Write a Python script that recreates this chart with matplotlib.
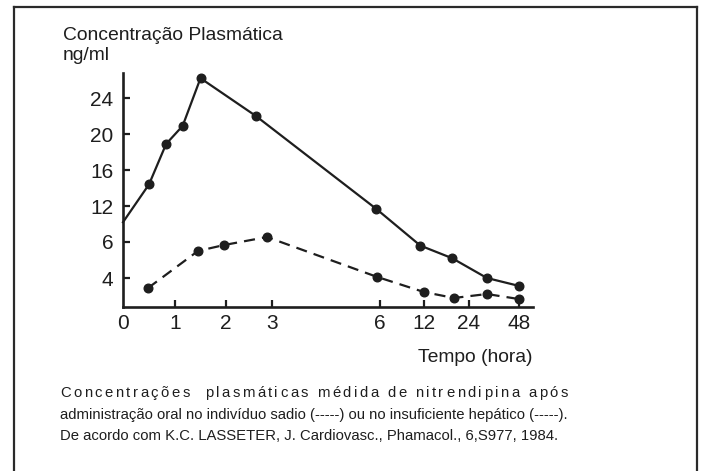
import numpy as np
import matplotlib
matplotlib.use("Agg")
import matplotlib.pyplot as plt
from matplotlib import font_manager
from matplotlib.ft2font import FT2Font
from matplotlib.lines import Line2D

# ---------------- data ----------------
x_ticks = [0, 1, 2, 3, 6, 12, 24, 48]
x_ticklabels = ["0", "1", "2", "3", "6", "12", "24", "48"]
y_ticks = [4, 6, 12, 16, 20, 24]
y_ticklabels = ["4", "6", "12", "16", "20", "24"]

# solid curve (insuficiente hepático)
hep_t = [0, 0.5, 0.83, 1.15, 1.5, 2.65, 5.9, 11.5, 19.5, 32.6, 48]
hep_c = [9.3, 14.4, 18.9, 20.9, 26.2, 22.0, 11.5, 5.8, 5.1, 4.0, 3.56]

# dashed curve (indivíduo sadio)
sad_t = [0.48, 1.45, 1.96, 2.89, 5.92, 12.0, 20.0, 32.6, 48]
sad_c = [3.44, 5.5, 5.83, 6.83, 4.06, 3.22, 2.89, 3.11, 2.83]

title1 = "Concentração Plasmática"
title2 = "ng/ml"
xlabel = "Tempo (hora)"
caption1 = "Concentrações  plasmáticas médida de nitrendipina após"
caption2 = "administração oral no indivíduo sadio (-----) ou no insuficiente hepático (-----)."
caption3 = "De acordo com K.C. LASSETER, J. Cardiovasc., Phamacol., 6,S977, 1984."

# ---------------- layout ----------------
W, H, DPI = 703, 471, 100
X_PIX = [0, 52, 103, 149, 257, 301, 346, 396]   # axis pixel offset of each x tick
Y_POS = [1, 2, 3, 4, 5, 6]                        # even spacing of y ticks

avail = {f.name for f in font_manager.fontManager.ttflist}
FAM = "Liberation Sans Narrow" if "Liberation Sans Narrow" in avail else "Liberation Sans"
fpath = font_manager.findfont(font_manager.FontProperties(family=FAM))
ft = FT2Font(fpath)


def text_px(s, size):
    ft.set_size(size, 72)
    w = 0.0
    for ch in s:
        g = ft.load_char(ord(ch))
        w += g.linearHoriAdvance / 65536.0
    return w * DPI / 72.0


def char_adv(ch, size):
    ft.set_size(size, 72)
    g = ft.load_char(ord(ch))
    return g.linearHoriAdvance / 65536.0 * DPI / 72.0


def piecewise(xs, ys):
    xs = np.asarray(xs, float)
    ys = np.asarray(ys, float)

    def f(v):
        v = np.asarray(v, float)
        out = np.interp(v, xs, ys)
        lo_s = (ys[1] - ys[0]) / (xs[1] - xs[0])
        hi_s = (ys[-1] - ys[-2]) / (xs[-1] - xs[-2])
        out = np.where(v < xs[0], ys[0] + (v - xs[0]) * lo_s, out)
        out = np.where(v > xs[-1], ys[-1] + (v - xs[-1]) * hi_s, out)
        return out
    return f


fx, ix = piecewise(x_ticks, X_PIX), piecewise(X_PIX, x_ticks)
fy, iy = piecewise(y_ticks, Y_POS), piecewise(Y_POS, y_ticks)

plt.rcParams["font.family"] = [FAM, "DejaVu Sans"]
fig = plt.figure(figsize=(W / DPI, H / DPI), dpi=DPI)

ax_l, ax_r, ax_t, ax_b = 123, 533, 73, 307
ax = fig.add_axes([ax_l / W, 1 - ax_b / H, (ax_r - ax_l) / W, (ax_b - ax_t) / H])
ax.set_xscale("function", functions=(fx, ix))
ax.set_yscale("function", functions=(fy, iy))
ax.set_xlim(0, float(ix(ax_r - ax_l)))
ax.set_ylim(float(iy(1 - 29 / 36)), float(iy(6 + 25 / 36)))

ink = "#1e1e1e"
ax.plot(hep_t, hep_c, color=ink, lw=1.6, marker="o", ms=6.2,
        markevery=list(range(1, len(hep_t))), clip_on=False, zorder=3)
ax.plot(sad_t, sad_c, color=ink, lw=1.6, marker="o", ms=6.2,
        dashes=(5, 3.2), clip_on=False, zorder=3)

for s in ("top", "right"):
    ax.spines[s].set_visible(False)
for s in ("left", "bottom"):
    ax.spines[s].set_linewidth(1.9)
    ax.spines[s].set_color(ink)
    ax.spines[s].set_capstyle("projecting")

ax.set_xticks(x_ticks)
ax.set_xticklabels(x_ticklabels)
ax.set_yticks(y_ticks)
ax.set_yticklabels(y_ticklabels)
ax.minorticks_off()
ax.tick_params(axis="both", direction="in", length=5, width=1.6, color=ink,
               labelsize=15, labelcolor=ink)
ax.tick_params(axis="x", pad=5)
ax.tick_params(axis="y", pad=7)
ax.xaxis.get_major_ticks()[0].tick1line.set_visible(False)
ax.patch.set_visible(False)


def px_text(x, y, s, size, **kw):
    fig.text(x / W, 1 - y / H, s, fontsize=size, color=ink, **kw)


# titles (sizes fitted to the widths in the reference)
ts = 16 * 220 / text_px(title1, 16)
px_text(63, 40, title1, ts, ha="left", va="baseline")
px_text(63, 60, title2, ts, ha="left", va="baseline")
px_text(533, 362, xlabel, ts, ha="right", va="baseline")

# caption
cs = 12 * 510 / text_px(caption2, 12)
px_text(60, 419, caption2, cs, ha="left", va="baseline")
px_text(60, 440, caption3, cs, ha="left", va="baseline")
# first line spread to the same width (letter-spaced)
nat = text_px(caption1, cs)
extra = (508 - nat) / (len(caption1) - 1)
xc = 60.0
for ch in caption1:
    if ch != " ":
        px_text(xc, 397, ch, cs, ha="left", va="baseline")
    xc += char_adv(ch, cs) + extra

# frame (open at the bottom)
for xs, ys in (([14, 14], [H, 7]), ([14, 697], [7, 7]), ([697, 697], [7, H])):
    fig.add_artist(Line2D([x / W for x in xs], [1 - y / H for y in ys],
                          color="#2a2a2a", lw=1.6, solid_capstyle="projecting"))

fig.savefig("out.png", dpi=DPI)
